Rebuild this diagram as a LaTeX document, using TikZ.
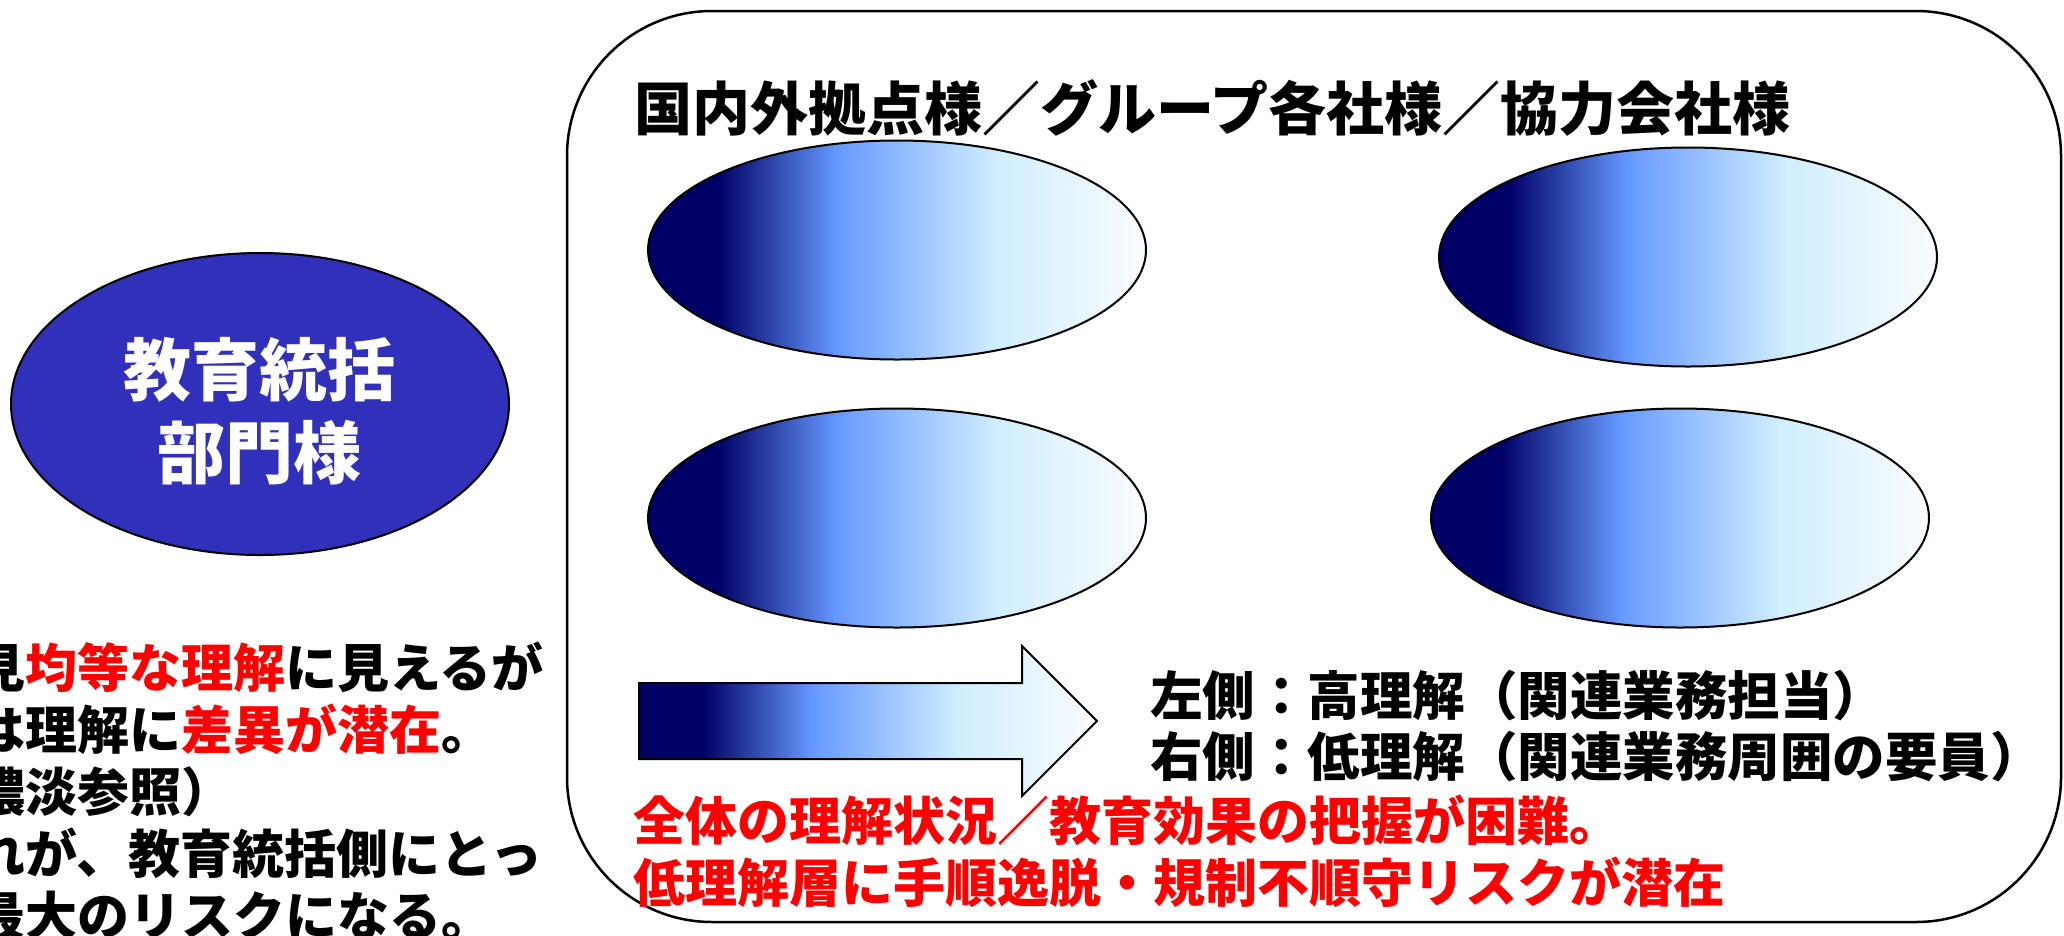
\documentclass[tikz,border=0pt]{standalone}
\usepackage{fontspec}
\setmainfont{Noto Sans CJK JP}
\usetikzlibrary{shapes.geometric}
\definecolor{navy}{RGB}{0,0,102}
\definecolor{midblue}{RGB}{102,153,255}
\definecolor{lightblue}{RGB}{208,238,255}
\definecolor{paleend}{RGB}{250,252,255}
\definecolor{headblue}{RGB}{48,48,186}
\definecolor{alertred}{RGB}{255,0,0}
\pgfdeclarehorizontalshading{understand}{100bp}{color(0bp)=(navy); color(25bp)=(navy); color(32bp)=(navy); color(44bp)=(midblue); color(60bp)=(lightblue); color(75bp)=(paleend); color(100bp)=(paleend)}
\begin{document}
\begin{tikzpicture}[x=1pt,y=-1pt,
  frame/.style={draw=black, line width=2.5pt, rounded corners=145pt, rectangle, inner sep=0pt, minimum width=1494pt, minimum height=911pt},
  hqoval/.style={ellipse, draw=black, line width=2pt, fill=headblue, inner sep=0pt, minimum width=498pt, minimum height=302pt},
  gradoval/.style={ellipse, draw=black, line width=2pt, shading=understand, inner sep=0pt, minimum width=498pt, minimum height=219pt},
  gradarrow/.style={draw=black, line width=2pt, shading=understand, line join=miter},
  basetxt/.style={inner sep=0pt, anchor=west, align=left},
  titletxt/.style={basetxt, font=\bfseries\fontsize{58pt}{68pt}\selectfont},
  hqtxt/.style={inner sep=0pt, align=center, text=white, font=\bfseries\fontsize{68pt}{83pt}\selectfont},
  legendtxt/.style={basetxt, font=\bfseries\fontsize{52.5pt}{61pt}\selectfont},
  risktxt/.style={basetxt, text=alertred, font=\bfseries\fontsize{52pt}{62pt}\selectfont},
  notetxt/.style={basetxt, font=\bfseries\fontsize{52pt}{62pt}\selectfont}
]
\useasboundingbox (0,0) rectangle (2064,935);
\clip (0,0) rectangle (2064,935);

\node[frame] (group) at (1314,466.5) {};

\node[hqoval] (hq) at (260,404) {};
\node[hqtxt] (hqlabel) at (259,411) {教育統括\\部門様};

\node[titletxt] (title) at (634,108) {国内外拠点様／グループ各社様／協力会社様};

\node[gradoval] (a1) at (897,250) {};
\node[gradoval] (a2) at (1688,257) {};
\node[gradoval] (a3) at (897,518) {};
\node[gradoval] (a4) at (1680,518) {};

\shadedraw[gradarrow] (639,683) -- (1022,683) -- (1022,646) -- (1097,721) -- (1022,796) -- (1022,759) -- (639,759) -- cycle;

\node[legendtxt] (legend) at (1150,726.5) {左側：高理解（関連業務担当）\\右側：低理解（関連業務周囲の要員）};

\node[risktxt] (risk) at (633,851) {全体の理解状況／教育効果の把握が困難。\\低理解層に手順逸脱・規制不順守リスクが潜在};

\node[notetxt] (note) at (-27,791) {見{\color{alertred}均等な理解}に見えるが\\は理解に{\color{alertred}差異が潜在}。\\濃淡参照）\\れが、教育統括側にとっ\\最大のリスクになる。};
\end{tikzpicture}
\end{document}
